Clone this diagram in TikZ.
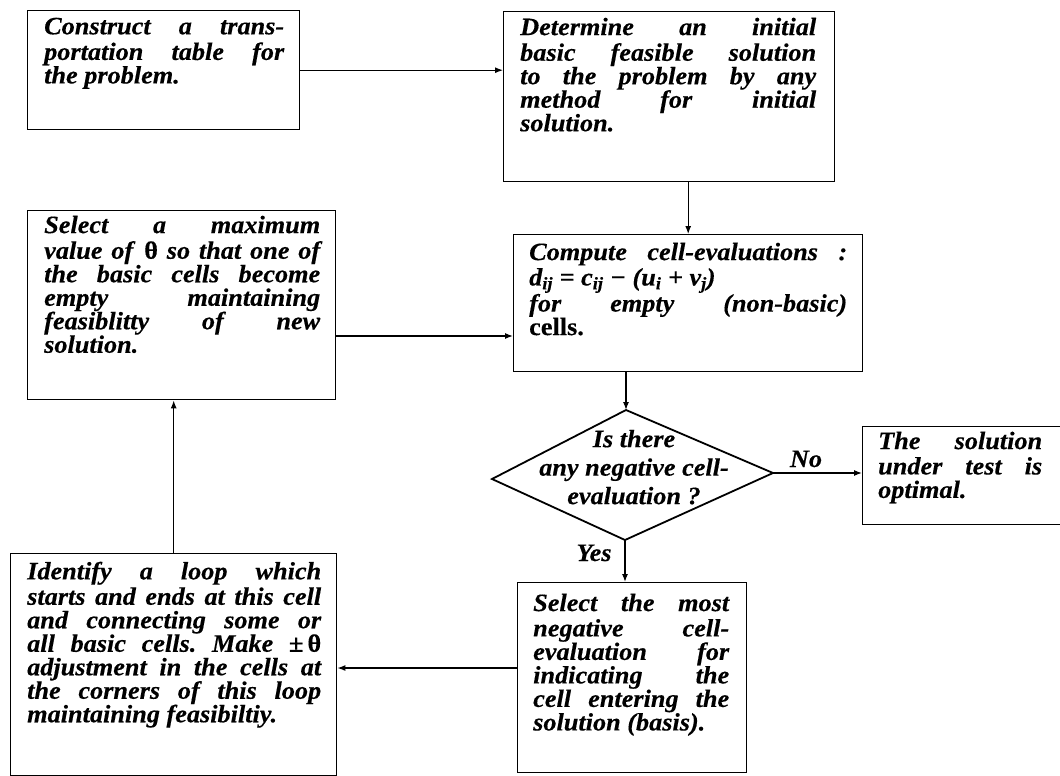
\documentclass[tikz,border=0pt]{standalone}
\usepackage{fontspec}
\setmainfont{Liberation Serif}[FakeStretch=1.05,FakeBold=0.3]
\usetikzlibrary{arrows.meta}
\newcommand\boxfont{\fontsize{25}{23.5}\selectfont\bfseries\itshape\frenchspacing\hyphenpenalty=10000\relax\parindent=0pt\relax}
\newcommand\dfont{\fontsize{25}{28.5}\selectfont\bfseries\itshape}
\hbadness=10000
\hfuzz=20pt
\tolerance=10000
\begin{document}
\begin{tikzpicture}[x=1pt,y=-1pt,
  boxnode/.style={draw, line width=1.4pt, inner sep=0pt, anchor=north west},
  txt/.style={inner sep=0pt, anchor=north west, align=justify, font=\boxfont},
  arr/.style={-{Latex[length=8pt,width=6pt]}, line width=1.2pt},
  diam/.style={line width=1.8pt, line join=miter},
  lbl/.style={font=\boxfont, inner sep=0pt}]
\useasboundingbox (0,0) rectangle (1060,776);
\fill[white] (0,0) rectangle (1060,776);
% boxes
\node[boxnode, minimum width=272pt, minimum height=119pt] (b1) at (27,10) {};
\node[boxnode, minimum width=331pt, minimum height=170pt] (b2) at (503,11) {};
\node[boxnode, minimum width=308pt, minimum height=189pt] (b3) at (27,210) {};
\node[boxnode, minimum width=349pt, minimum height=137pt] (b4) at (513,234) {};
\node[boxnode, minimum width=204pt, minimum height=98pt] (b5) at (862,426) {};
\node[boxnode, minimum width=229pt, minimum height=190pt] (b6) at (517,582) {};
\node[boxnode, minimum width=326pt, minimum height=222pt] (b7) at (10,553) {};
% diamond
\coordinate (dT) at (626,410);
\coordinate (dR) at (773,473);
\coordinate (dB) at (625,540);
\coordinate (dL) at (492,479);
\draw[diam] (dT) -- (dR) -- (dB) -- (dL) -- cycle;
% texts
\node[txt, text width=240pt] (t1) at (44,17.55) {\noindent\strut Construct a trans-\linebreak portation table for\linebreak the problem.};
\node[txt, text width=296pt] (t2) at (520,17.55) {\noindent\strut Determine an initial\linebreak basic feasible solution\linebreak to the problem by any\linebreak method for initial\linebreak solution.};
\node[txt, text width=276pt] (t3) at (44,215.55) {\noindent\strut Select a maximum\linebreak value of \textup{θ} so that one of\linebreak the basic cells become\linebreak empty maintaining\linebreak feasiblitty of new\linebreak solution.};
\node[txt, text width=318pt] (t4) at (529,242.55) {\noindent\strut Compute cell-evaluations :\linebreak d\textsubscript{ij} = c\textsubscript{ij} − (u\textsubscript{i} + v\textsubscript{j})\newline for empty (non-basic)\linebreak \textup{cells.}};
\node[txt, text width=164pt] (t5) at (878,431.5) {\noindent\strut The solution\linebreak under test is\linebreak optimal.};
\node[txt, text width=196pt] (t6) at (533,593.5) {\noindent\strut Select the most\linebreak negative cell-\linebreak evaluation for\linebreak indicating the\linebreak cell entering the\linebreak solution (basis).};
\node[txt, text width=294pt] (t7) at (27,561.55) {\noindent\strut Identify a loop which\linebreak starts and ends at this cell\linebreak and connecting some or\linebreak all basic cells. Make~±\,\textup{θ}\linebreak adjustment in the cells at\linebreak the corners of this loop\linebreak maintaining feasibiltiy.};
\node[inner sep=0pt, anchor=north, align=center, font=\dfont] (dtext) at (634,427) {\strut Is there\\any negative cell-\\evaluation ?};
% labels
\node[lbl, anchor=base] (lno) at (806,467) {No};
\node[lbl, anchor=base] (lyes) at (594,561) {Yes};
% connectors
\coordinate (y3) at (0,336);
\coordinate (y6) at (0,668);
\draw[arr] (b1.east) -- (b1.east -| b2.west);
\draw[arr] (b4.north |- b2.south) -- (b4.north);
\draw[arr] (b3.east |- y3) -- (b4.west |- y3);
\draw[arr] (dT |- b4.south) -- (dT);
\draw[arr] (dR) -- (dR -| b5.west);
\draw[arr] (dB) -- (dB |- b6.north);
\draw[arr] (b6.west |- y6) -- (b7.east |- y6);
\draw[arr] (b7.north) -- (b7.north |- b3.south);
\end{tikzpicture}
\end{document}
